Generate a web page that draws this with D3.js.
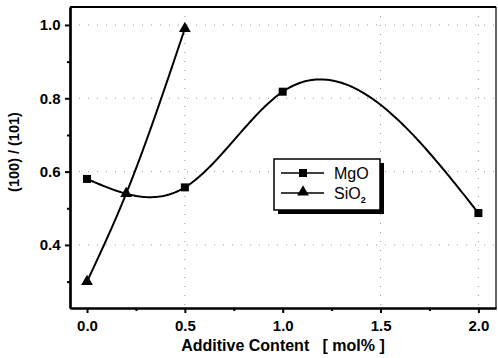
<!DOCTYPE html>
<html><head><meta charset="utf-8">
<script src="https://cdn.jsdelivr.net/npm/d3@7"></script>
<style>body{margin:0;background:#fff}svg text{font-family:"Liberation Sans",Arial,sans-serif;font-weight:bold}</style>
</head><body><svg id="c" width="498" height="358"></svg>
<script>
const mgoX = [0.0, 0.5, 1.0, 2.0];
const mgoY = [0.58, 0.557, 0.818, 0.487];
const sioX = [0.0, 0.2, 0.5];
const sioY = [0.30, 0.54, 0.99];
const xTicks = [0.0, 0.5, 1.0, 1.5, 2.0];
const yTicks = [0.4, 0.6, 0.8, 1.0];
const xMinor = [0.25, 0.75, 1.25, 1.75];
const yMinor = [0.3, 0.5, 0.7, 0.9];

// natural cubic spline y(x), as the plotting program draws it
function naturalSpline(xs, ys) {
  const n = xs.length, h = [], M = new Array(n).fill(0);
  for (let i = 0; i < n - 1; i++) h.push(xs[i + 1] - xs[i]);
  if (n > 2) {
    const m = n - 2, a = [], b = [], c = [], d = [];
    for (let i = 1; i < n - 1; i++) {
      a.push(h[i - 1]); b.push(2 * (h[i - 1] + h[i])); c.push(h[i]);
      d.push(6 * ((ys[i + 1] - ys[i]) / h[i] - (ys[i] - ys[i - 1]) / h[i - 1]));
    }
    for (let i = 1; i < m; i++) { const w = a[i] / b[i - 1]; b[i] -= w * c[i - 1]; d[i] -= w * d[i - 1]; }
    const sol = new Array(m);
    sol[m - 1] = d[m - 1] / b[m - 1];
    for (let i = m - 2; i >= 0; i--) sol[i] = (d[i] - c[i] * sol[i + 1]) / b[i];
    for (let i = 0; i < m; i++) M[i + 1] = sol[i];
  }
  return function (x) {
    let i = 0; while (i < n - 2 && x > xs[i + 1]) i++;
    const hi = h[i], A = xs[i + 1] - x, B = x - xs[i];
    return M[i] * A * A * A / (6 * hi) + M[i + 1] * B * B * B / (6 * hi)
      + (ys[i] / hi - M[i] * hi / 6) * A + (ys[i + 1] / hi - M[i + 1] * hi / 6) * B;
  };
}
function curvePts(xs, ys) {
  const f = naturalSpline(xs, ys), x0 = xs[0], x1 = xs[xs.length - 1];
  return d3.range(0, 201).map(k => { const xv = x0 + (x1 - x0) * k / 200; return [xv, f(xv)]; });
}

const svg = d3.select("#c");
const L=70, R=496, T=7, B=308;
const x = d3.scaleLinear().domain([-0.087, 2.09]).range([L, R]);
const y = d3.scaleLinear().domain([0.228, 1.049]).range([B, T]);

// grid
const g = svg.append("g");
g.selectAll(".gy").data(yTicks).join("line").attr("x1",L).attr("x2",R)
 .attr("y1",d=>y(d)).attr("y2",d=>y(d)).attr("stroke","#999").attr("stroke-width",1).attr("stroke-dasharray","1,8");
g.selectAll(".gx").data([0.5,1.5,2.0]).join("line").attr("y1",T).attr("y2",B)
 .attr("x1",d=>x(d)).attr("x2",d=>x(d)).attr("stroke","#999").attr("stroke-width",1).attr("stroke-dasharray","1,8");

// axes
const xa = svg.append("g").attr("transform",`translate(0,${B})`)
 .call(d3.axisBottom(x).tickValues(xTicks).tickFormat(d3.format(".1f")).tickSize(5).tickSizeOuter(0));
const xm = svg.append("g").attr("transform",`translate(0,${B})`)
 .call(d3.axisBottom(x).tickValues(xMinor).tickFormat("").tickSize(3).tickSizeOuter(0));
const ya = svg.append("g").attr("transform",`translate(${L},0)`)
 .call(d3.axisLeft(y).tickValues(yTicks).tickFormat(d3.format(".1f")).tickSize(5).tickSizeOuter(0));
const ym = svg.append("g").attr("transform",`translate(${L},0)`)
 .call(d3.axisLeft(y).tickValues(yMinor).tickFormat("").tickSize(3).tickSizeOuter(0));
[xa,xm,ya,ym].forEach(a=>{a.selectAll("path").attr("stroke","#000").attr("stroke-width",2.2);
 a.selectAll("line").attr("stroke","#000").attr("stroke-width",2);});
xa.selectAll("text").attr("font-size",15).attr("fill","#000").attr("dy","1.0em");
ya.selectAll("text").attr("font-size",15).attr("fill","#000").attr("dx","-0.1em");
// top and right border
svg.append("line").attr("x1",L).attr("x2",R).attr("y1",T).attr("y2",T).attr("stroke","#000").attr("stroke-width",2.2);
svg.append("line").attr("x1",R).attr("x2",R).attr("y1",T).attr("y2",B).attr("stroke","#000").attr("stroke-width",1.2);

// lines
const mgo = mgoX.map((v,i)=>[v,mgoY[i]]);
const sio = sioX.map((v,i)=>[v,sioY[i]]);
const line = d3.line().x(d=>x(d[0])).y(d=>y(d[1]));
svg.append("path").attr("d",line(curvePts(mgoX,mgoY))).attr("fill","none").attr("stroke","#000").attr("stroke-width",2);
svg.append("path").attr("d",line(curvePts(sioX,sioY))).attr("fill","none").attr("stroke","#000").attr("stroke-width",2);
svg.selectAll(".sq").data(mgo).join("rect").attr("x",d=>x(d[0])-4).attr("y",d=>y(d[1])-4)
 .attr("width",8).attr("height",8).attr("fill","#000");
const tri = d3.symbol().type(d3.symbolTriangle).size(60);
svg.selectAll(".tr").data(sio).join("path").attr("d",tri)
 .attr("transform",d=>`translate(${x(d[0])},${y(d[1])})`).attr("fill","#000");

// legend
const lg = svg.append("g");
lg.append("rect").attr("x",278).attr("y",163).attr("width",106).attr("height",51).attr("fill","#000");
lg.append("rect").attr("x",274).attr("y",159).attr("width",106).attr("height",51).attr("fill","#fff").attr("stroke","#000").attr("stroke-width",1.5);
lg.append("line").attr("x1",281).attr("x2",324).attr("y1",173).attr("y2",173).attr("stroke","#000").attr("stroke-width",1.5);
lg.append("rect").attr("x",299).attr("y",169).attr("width",8).attr("height",8).attr("fill","#000");
lg.append("line").attr("x1",281).attr("x2",324).attr("y1",193).attr("y2",193).attr("stroke","#000").attr("stroke-width",1.5);
lg.append("path").attr("d",tri).attr("transform","translate(303,192)").attr("fill","#000");
lg.append("text").attr("x",334).attr("y",179).attr("font-size",16).style("font-weight","normal").text("MgO");
const st = lg.append("text").attr("x",334).attr("y",199).attr("font-size",16).style("font-weight","normal");
st.append("tspan").text("SiO");
st.append("tspan").attr("font-size",9).attr("dy",4).style("font-weight","bold").text("2");

// titles
svg.append("text").attr("x",283).attr("y",351).attr("text-anchor","middle").attr("font-size",16)
 .style("white-space","pre").text("Additive Content   [ mol% ]");
svg.append("text").attr("transform","translate(19,152) rotate(-90)").attr("text-anchor","middle").attr("font-size",14.5).text("(100) / (101)");
</script></body></html>
